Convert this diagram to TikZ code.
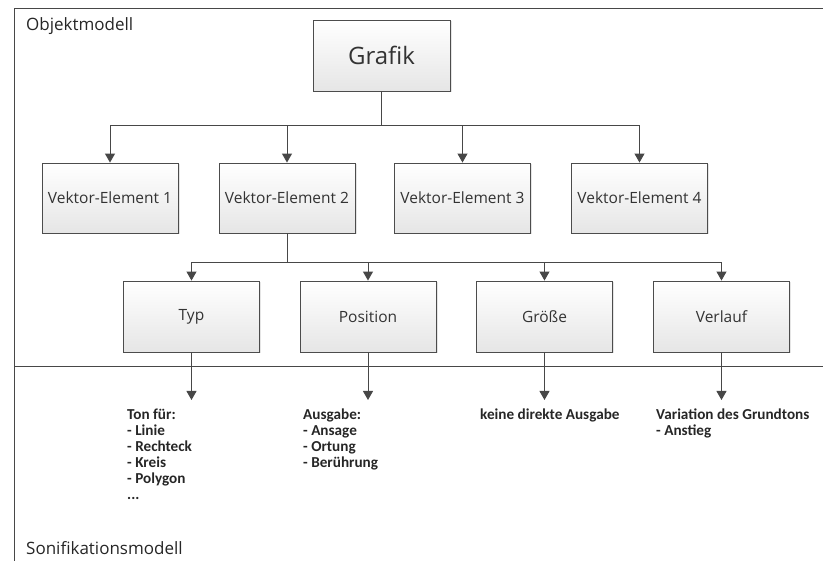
\documentclass[tikz,border=0pt]{standalone}
\usepackage{fontspec}
\setmainfont{Open Sans}
\newfontfamily\notefont{Carlito}
\usetikzlibrary{arrows.meta,shadows}

\tikzset{
  box/.style={draw=black!70, line width=0.9pt, top color=white, bottom color=black!10,
    minimum width=136pt, minimum height=70pt, inner sep=0pt,
    font=\fontsize{15.5}{17}\selectfont, text=black!80,
    drop shadow={shadow xshift=1.5pt, shadow yshift=-1.5pt, fill=black!20}},
  conn/.style={draw=black!72, line width=1pt},
  arr/.style={conn, -{Triangle[width=10pt,length=9pt]}},
  note/.style={anchor=north west, align=left, inner sep=0pt,
    font=\notefont\bfseries\fontsize{15.2}{16}\selectfont, text=black!85},
  modell/.style={anchor=west, inner sep=0pt, font=\fontsize{17}{19}\selectfont, text=black!85}
}

\begin{document}
\begin{tikzpicture}[x=1pt,y=-1pt]
  \useasboundingbox (0,0) rectangle (823,561);
  % frame and divider
  \draw[conn, line width=0.8pt] (823,8) -- (14,8) -- (14,561);
  \draw[conn, line width=0.8pt] (14,366) -- (823,366);
  \node[modell] (objekt) at (26,26) {Objektmodell};
  \node[modell] (sonif) at (26,548) {Sonifikationsmodell};

  % top level
  \node[box, minimum width=137pt, minimum height=71pt, font=\fontsize{24}{26}\selectfont] (grafik) at (381.5,55.5) {Grafik};
  \coordinate (bus1) at (381.5,126);
  \draw[conn] (grafik) -- (bus1);
  \foreach \n/\x in {1/110,2/287,3/462.5,4/639.5}
  {
    \node[box] (ve\n) at (\x,198) {Vektor-Element \n};
    \draw[arr] (bus1) -| (ve\n);
  }

  % properties of element 2
  \coordinate (bus2) at (287,263);
  \draw[conn] (ve2) -- (bus2);
  \foreach \name/\x/\t in {typ/191.5/Typ, position/368/Position, groesse/544.5/Größe, verlauf/721.5/Verlauf}
  {
    \node[box, minimum height=71pt] (\name) at (\x,316.5) {\t};
    \draw[arr] (bus2) -| (\name);
    \coordinate (\name end) at (\x,400);
    \draw[arr] (\name) -- (\name end);
  }

  % output of the sonification
  \node[note] (tonfuer) at (127,409) {Ton für:\\- Linie\\- Rechteck\\- Kreis\\- Polygon\\...};
  \node[note] (ausgabe) at (303,409) {Ausgabe:\\- Ansage\\- Ortung\\- Berührung};
  \node[note] (keine) at (480,409) {keine direkte Ausgabe};
  \node[note] (variation) at (656,409) {Variation des Grundtons\\- Anstieg};
\end{tikzpicture}
\end{document}
